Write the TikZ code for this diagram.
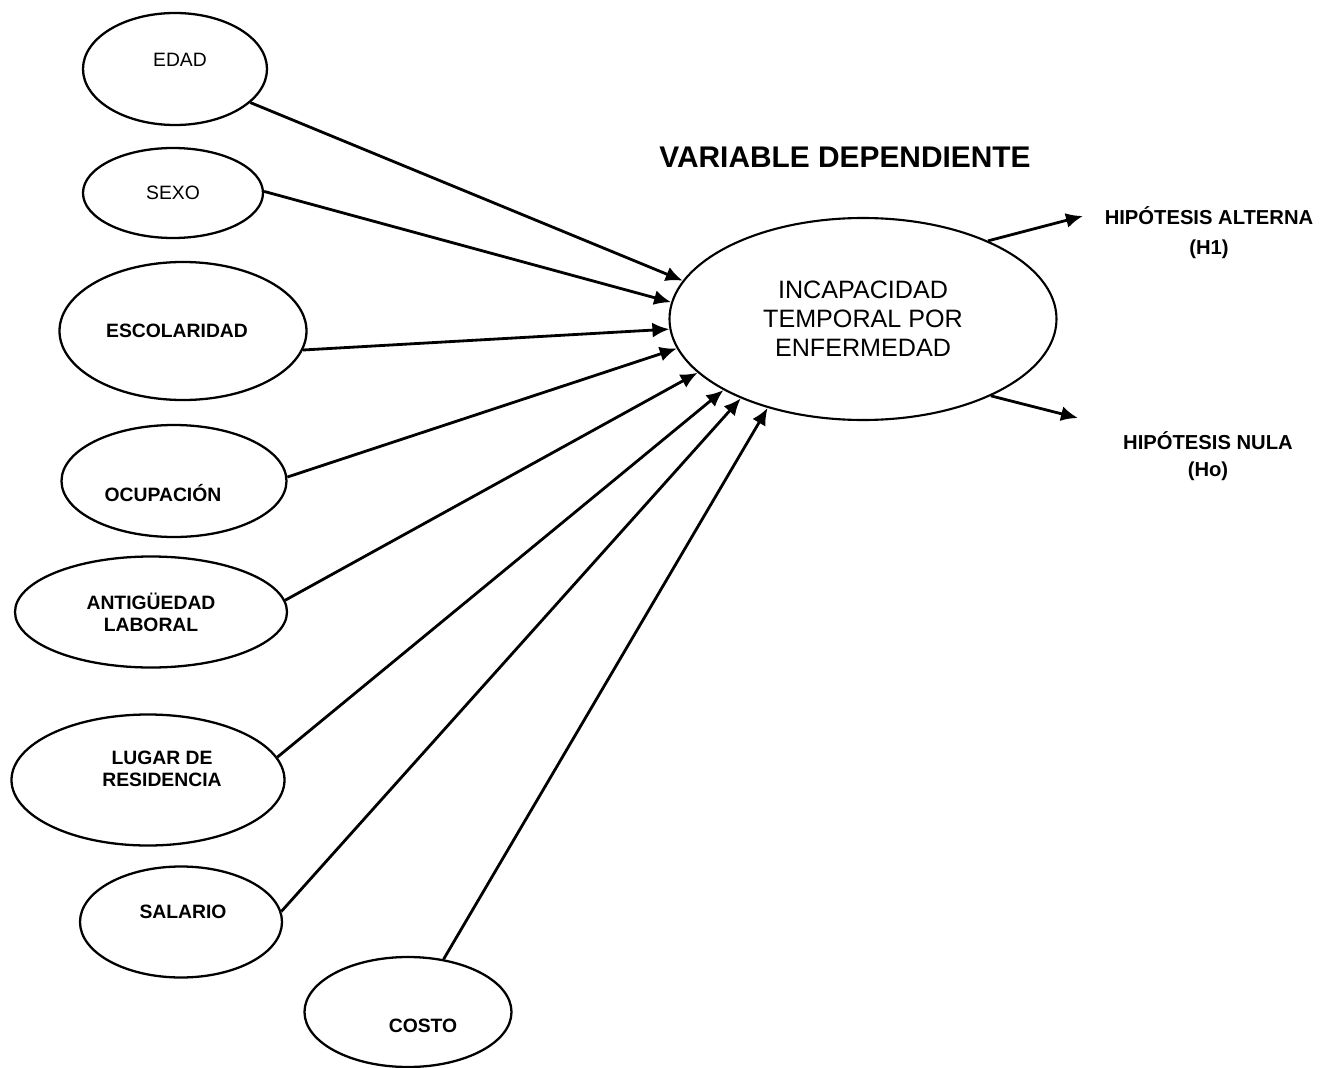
\documentclass[tikz,border=0pt]{standalone}
\usepackage{fontspec}
\setmainfont{Liberation Sans}
\usetikzlibrary{arrows.meta,shapes.geometric}
\tikzset{
  indep/.style  ={draw, ellipse, inner sep=0pt, line width=1.3pt},
  dep/.style    ={draw, ellipse, inner sep=0pt, line width=1.2pt, align=center,
                  font=\fontsize{14.3}{16.5}\selectfont},
  vlbl/.style   ={font=\fontsize{11}{12.5}\selectfont\bfseries, align=center,
                  inner sep=0pt},
  vlblr/.style  ={font=\fontsize{11}{12.5}\selectfont, inner sep=0pt},
  flecha/.style ={-{Latex[length=3.4mm,width=3mm]}, line width=1.6pt},
  ttl/.style    ={font=\fontsize{17}{19}\selectfont\bfseries},
  hyp/.style    ={font=\fontsize{11.5}{17}\selectfont\bfseries, align=center},
}
\begin{document}
\begin{tikzpicture}
\useasboundingbox (0,0) rectangle (26.4,-21.36);
% variables independientes
\node[indep, minimum width=3.68cm, minimum height=2.24cm,
  label={[vlblr, xshift=1mm, yshift=1.8mm]center:EDAD}] (edad) at (3.50,-1.38) {};
\node[indep, minimum width=3.60cm, minimum height=1.80cm,
  label={[vlblr]center:SEXO}] (sexo) at (3.46,-3.86) {};
\node[indep, minimum width=4.94cm, minimum height=2.76cm,
  label={[vlbl, xshift=-1.2mm]center:ESCOLARIDAD}] (escol) at (3.66,-6.62) {};
\node[indep, minimum width=4.50cm, minimum height=2.24cm,
  label={[vlbl, xshift=-2.2mm, yshift=-2.4mm]center:OCUPACIÓN}] (ocup) at (3.48,-9.62) {};
\node[indep, minimum width=5.44cm, minimum height=2.22cm,
  label={[vlbl]center:ANTIGÜEDAD\\LABORAL}] (antig) at (3.02,-12.24) {};
\node[indep, minimum width=5.46cm, minimum height=2.62cm,
  label={[vlbl, xshift=2.8mm, yshift=2.2mm]center:LUGAR DE\\RESIDENCIA}] (lugar) at (2.96,-15.60) {};
\node[indep, minimum width=4.04cm, minimum height=2.22cm,
  label={[vlbl, xshift=0.4mm, yshift=2mm]center:SALARIO}] (salario) at (3.62,-18.44) {};
\node[indep, minimum width=4.14cm, minimum height=2.20cm,
  label={[vlbl, xshift=3mm, yshift=-2.8mm]center:COSTO}] (costo) at (8.16,-20.24) {};
% variable dependiente
\node[ttl] (titulo) at (16.90,-3.14) {VARIABLE DEPENDIENTE};
\node[dep, minimum width=7.74cm, minimum height=4.04cm] (incap) at (17.26,-6.38)
  {INCAPACIDAD\\TEMPORAL POR\\ENFERMEDAD};
% hipotesis
\node[hyp] (halt) at (24.18,-4.66) {HIPÓTESIS ALTERNA\\(H1)};
\node[hyp, font=\fontsize{11.5}{15.5}\selectfont\bfseries] (hnula) at (24.16,-9.12)
  {HIPÓTESIS NULA\\(Ho)};
\coordinate (palt) at (21.66,-4.32);
\coordinate (pnula) at (21.56,-8.36);
% flechas
\draw[flecha] (edad.-24) -- (incap.168);
\draw[flecha] (sexo.1) -- (incap.175);
\draw[flecha] (escol.-9) -- (incap.-177.6);
\draw[flecha] (ocup.2) -- (incap.189.7);
\draw[flecha] (antig.5) -- (incap.198.7);
\draw[flecha] (lugar.10.5) -- (incap.207.8);
\draw[flecha] (salario.6.8) -- (incap.213.4);
\draw[flecha] (costo.56.8) -- (incap.223.9);
\draw[flecha] (incap.32) -- (palt);
\draw[flecha] (incap.-31) -- (pnula);
\end{tikzpicture}
\end{document}
